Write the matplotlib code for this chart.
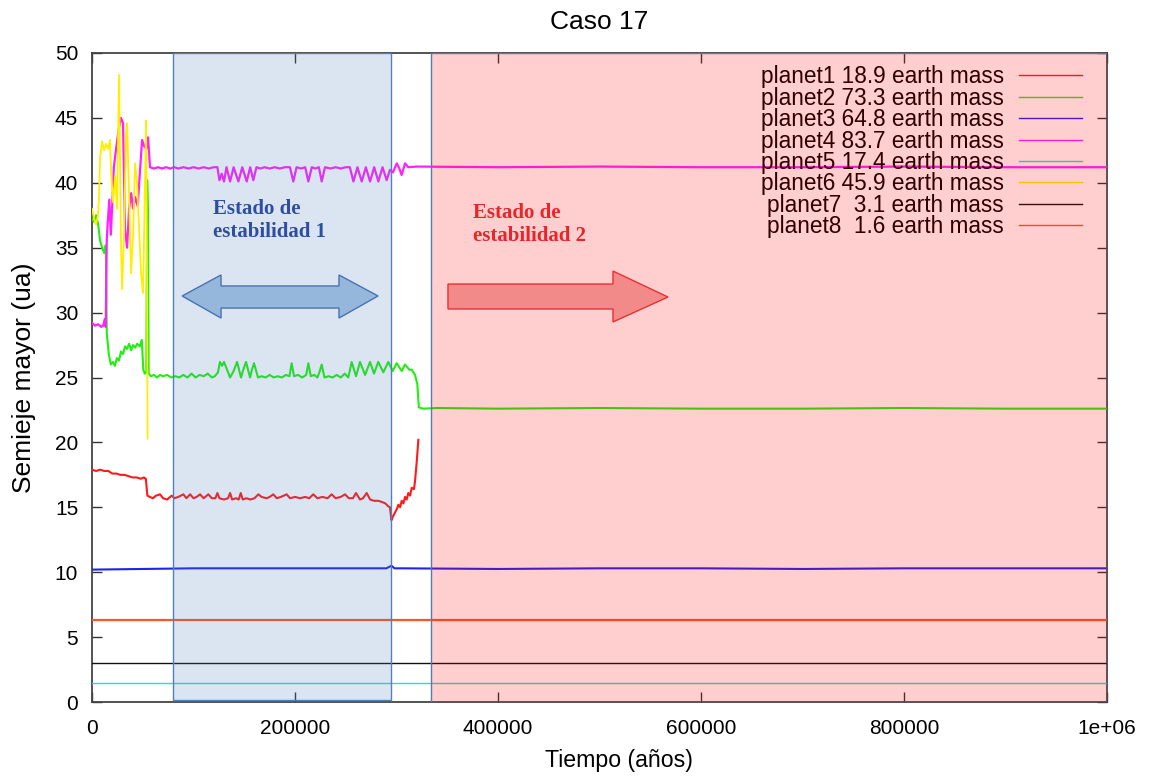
import matplotlib
matplotlib.use('Agg')
import matplotlib.pyplot as plt
from matplotlib.patches import Polygon

plt.rcParams['font.family'] = ['Liberation Sans', 'DejaVu Sans']

# planet1 (red)
t1 = [0, 4000, 8000, 12000, 16000, 20000, 24000, 28000, 32000, 36000,
      40000, 44000, 48000, 51000, 53000, 54500, 57000, 60000, 63000, 67000,
      70000, 74000, 78500, 81000, 85000, 90000, 93000, 96600, 100000, 103000,
      106400, 110000, 114600, 118000, 121500, 123500, 125500, 130000, 134000, 136000,
      138000, 142000, 144500, 146500, 148500, 152000, 156000, 160000, 163900, 167000,
      172000, 175000, 178600, 182000, 186000, 191800, 195000, 200000, 205000, 210000,
      214000, 218000, 222000, 227000, 232000, 236100, 240000, 245000, 249300, 253000,
      257000, 260100, 264000, 267000, 270600, 274000, 278000, 282000, 286000, 289000,
      291500, 293500, 295000, 296500, 298500, 300500, 301800, 303500, 305100, 306800,
      308400, 310000, 311600, 313300, 315000, 317200, 318200, 319900, 321500]
a1 = [17.9, 17.8, 17.9, 17.8, 17.8, 17.6, 17.6, 17.5, 17.5, 17.4,
      17.3, 17.3, 17.2, 17.3, 17.2, 15.9, 15.8, 15.7, 15.9, 16.0,
      15.7, 15.6, 15.9, 15.7, 15.8, 16.0, 15.7, 16.0, 15.7, 15.8,
      16.0, 15.7, 16.0, 15.7, 15.7, 16.1, 15.7, 15.6, 15.7, 16.1,
      15.6, 15.7, 15.6, 16.1, 15.6, 15.7, 15.6, 15.7, 16.0, 15.8,
      15.7, 15.8, 16.0, 15.7, 15.8, 16.0, 15.7, 15.8, 15.7, 15.8,
      15.7, 16.0, 15.7, 15.8, 15.7, 16.0, 15.7, 15.8, 16.0, 15.7,
      15.7, 16.1, 15.6, 15.7, 16.1, 15.6, 15.5, 15.5, 15.4, 15.3,
      15.1, 15.0, 14.0, 14.3, 14.6, 14.9, 15.2, 15.0, 15.5, 15.3,
      15.8, 15.6, 16.1, 15.9, 16.5, 16.4, 17.0, 18.5, 20.2]

# planet2 (green)
t2 = [0, 2000, 4000, 6000, 8000, 10000, 12000, 13500, 14500, 16500,
      18500, 20500, 22500, 24500, 26500, 28500, 30500, 32500, 34500, 36500,
      38500, 40500, 42500, 44500, 47000, 49000, 50500, 52000, 53500, 54300,
      55000, 55800, 58000, 61000, 64000, 67000, 70000, 74000, 78000, 82000,
      86000, 90000, 94000, 98000, 102000, 106000, 110000, 114000, 118000, 121000,
      124100, 126000, 128100, 130000, 132000, 136000, 139500, 142900, 146800, 149000,
      151700, 155700, 157500, 159600, 163500, 167000, 171000, 175000, 179000, 183000,
      187000, 191000, 194500, 196700, 199000, 203000, 207000, 211000, 213100, 215500,
      219000, 222000, 224000, 226300, 229000, 233000, 237000, 241000, 245000, 249000,
      252500, 255800, 260100, 264000, 269000, 273900, 277800, 282000, 287000, 291900,
      296200, 300200, 305100, 308400, 312600, 315000, 318200, 320500, 322000, 326000,
      340000, 400000, 500000, 600000, 700000, 800000, 900000, 1000000]
a2 = [37.2, 37.0, 37.5, 36.8, 35.5, 35.0, 34.6, 35.2, 28.4, 26.8,
      26.0, 26.2, 25.9, 26.5, 26.3, 27.0, 26.8, 27.4, 27.2, 27.6,
      27.1, 27.5, 27.3, 27.6, 27.4, 27.9, 25.6, 25.3, 25.4, 40.2,
      38.0, 25.3, 25.1, 25.2, 25.0, 25.2, 25.1, 25.2, 25.0, 25.1,
      25.0, 25.2, 25.0, 25.3, 25.0, 25.2, 25.1, 25.3, 25.0, 25.1,
      25.4, 26.2, 25.9, 26.2, 25.8, 25.0, 25.5, 26.2, 25.0, 25.6,
      26.2, 25.0, 25.6, 26.1, 25.0, 25.1, 25.0, 25.2, 25.0, 25.1,
      25.0, 25.2, 25.1, 26.1, 25.1, 25.2, 25.0, 25.2, 26.1, 25.1,
      25.2, 25.0, 25.4, 26.0, 25.0, 25.1, 25.0, 25.2, 25.0, 25.3,
      25.0, 26.2, 25.1, 26.2, 25.2, 26.2, 25.3, 26.2, 25.4, 26.2,
      25.5, 26.1, 25.5, 26.0, 25.6, 25.6, 25.2, 24.5, 22.7, 22.6,
      22.65, 22.6, 22.65, 22.6, 22.6, 22.65, 22.6, 22.6]

# planet3 (blue)
t3 = [0, 50000, 100000, 150000, 200000, 250000, 290000, 295000, 298000,
      305000, 400000, 500000, 600000, 700000, 800000, 900000, 1000000]
a3 = [10.2, 10.25, 10.3, 10.3, 10.3, 10.3, 10.3, 10.5, 10.3,
      10.3, 10.25, 10.3, 10.3, 10.25, 10.3, 10.3, 10.3]

# planet4 (magenta)
t4 = [0, 3000, 6000, 9000, 11000, 12500, 13500, 14500, 15500, 17000,
      18500, 20000, 21500, 23500, 26000, 28500, 30500, 32500, 34500, 36500,
      38500, 40500, 42500, 45000, 47300, 49300, 51500, 53500, 55200, 57100,
      61000, 65000, 69000, 73000, 77000, 81000, 85000, 90000, 95000, 100000,
      105000, 110000, 115000, 120000, 123500, 125500, 127800, 130000, 132500, 136000,
      139500, 144200, 148000, 152400, 155800, 158900, 162000, 166000, 170000, 175000,
      180000, 185000, 190000, 195000, 198300, 201500, 206000, 210000, 213100, 216500,
      220000, 223500, 226300, 229500, 235000, 240000, 245000, 250000, 254000, 257500,
      261500, 265700, 269800, 273900, 278000, 282100, 286200, 290300, 293500, 296500,
      300200, 302800, 305000, 308400, 311600, 320000, 400000, 500000, 600000, 700000,
      800000, 900000, 1000000]
a4 = [29.2, 29.0, 29.1, 28.9, 29.0, 29.5, 28.9, 35.6, 37.0, 38.7,
      36.0, 38.5, 41.2, 42.5, 44.0, 45.0, 44.6, 36.4, 35.0, 38.0,
      39.2, 38.0, 38.9, 38.2, 41.0, 43.3, 42.8, 42.6, 43.5, 41.2,
      41.1, 41.2, 41.1, 41.2, 41.1, 41.2, 41.1, 41.2, 41.1, 41.2,
      41.1, 41.2, 41.1, 41.2, 41.2, 40.2, 40.7, 40.1, 41.2, 40.1,
      41.2, 40.1, 41.2, 40.1, 41.2, 40.2, 41.2, 41.1, 41.2, 41.1,
      41.2, 41.1, 41.2, 41.2, 40.1, 41.2, 41.1, 41.2, 40.1, 41.2,
      41.1, 41.2, 40.1, 41.2, 41.1, 41.2, 41.1, 41.2, 41.2, 40.1,
      41.2, 40.1, 41.2, 40.1, 41.2, 40.1, 41.2, 40.2, 41.0, 40.8,
      41.5, 41.1, 40.6, 41.5, 41.2, 41.25, 41.2, 41.25, 41.2, 41.2,
      41.25, 41.2, 41.2]

# planet6 (yellow)
t6 = [0, 2000, 3900, 5900, 6900, 7900, 9900, 11800, 13800, 15800,
      17700, 18700, 20700, 22700, 24600, 26600, 28600, 29600, 31500, 33500,
      34500, 36500, 38400, 40400, 42400, 44300, 46300, 48300, 50200, 52200,
      53200, 54200, 54700]
a6 = [38.0, 37.2, 36.8, 37.5, 39.0, 42.0, 43.2, 42.5, 43.0, 42.6,
      43.3, 41.0, 38.5, 40.5, 38.0, 48.3, 35.0, 31.8, 36.0, 43.8,
      44.6, 39.0, 33.0, 36.0, 41.5, 40.0, 36.5, 33.0, 31.5, 40.0,
      44.8, 32.0, 20.3]

# planets 5, 7, 8 stay flat over the whole run
t_flat = [0, 1000000]
a5 = [1.5, 1.5]
a7 = [3.0, 3.0]
a8 = [6.3, 6.3]

labels = ['planet1 18.9 earth mass', 'planet2 73.3 earth mass',
          'planet3 64.8 earth mass', 'planet4 83.7 earth mass',
          'planet5 17.4 earth mass', 'planet6 45.9 earth mass',
          'planet7  3.1 earth mass', 'planet8  1.6 earth mass']
colors = ['#ff1a1a', '#22ee11', '#2222ee', '#ff22ff',
          '#22dddd', '#ffee00', '#111111', '#ff5522']
widths = [1.5, 1.5, 1.5, 1.6, 1.0, 1.3, 1.0, 1.6]

# stability windows (years)
estado1 = (79800, 294600)
estado2 = (334000, 1000000)

fig = plt.figure(figsize=(11.55, 7.77), dpi=100)
ax = fig.add_axes([0.0797, 0.0965, 0.8787, 0.8353])

series = [(t1, a1), (t2, a2), (t3, a3), (t4, a4),
          (t_flat, a5), (t6, a6), (t_flat, a7), (t_flat, a8)]
for (t, a), lab, c, w in zip(series, labels, colors, widths):
    ax.plot(t, a, color=c, lw=w, label=lab, zorder=3)

ax.set_xlim(0, 1000000)
ax.set_ylim(0, 50)
ax.set_xticks([0, 200000, 400000, 600000, 800000, 1000000])
ax.set_xticklabels(['0', '200000', '400000', '600000', '800000', '1e+06'])
ax.set_yticks(range(0, 51, 5))
ax.tick_params(direction='in', top=True, right=True, length=7, width=1,
               labelsize=15, color='#333333')
ax.tick_params(axis='x', pad=12)
ax.tick_params(axis='y', pad=10)
for s in ax.spines.values():
    s.set_color('#444444')
    s.set_linewidth(1.3)

ax.set_title('Caso 17', fontsize=19, pad=17)
ax.set_xlabel('Tiempo (años)', fontsize=16.7, labelpad=14)
ax.xaxis.set_label_coords(0.519, -0.072)
ax.set_ylabel('Semieje mayor (ua)', fontsize=19)
ax.yaxis.set_label_coords(-0.055, 0.5)

leg = ax.legend(loc='upper right', bbox_to_anchor=(0.9754, 0.981), frameon=False,
                markerfirst=False, fontsize=16.3, handlelength=2.8,
                handletextpad=0.65, labelspacing=-0.07, borderpad=0,
                borderaxespad=0)
leg.set_zorder(4)
for h in leg.get_lines():
    h.set_linewidth(1.0)

# shaded stability windows drawn over the curves
ax.axvspan(*estado1, ymin=0.003, ymax=1, facecolor=(0.31, 0.506, 0.741, 0.2),
           edgecolor='#4f81bd', lw=1, zorder=6)
ax.axvspan(*estado2, ymin=0, ymax=1, facecolor=(1.0, 0.0, 0.0, 0.19),
           edgecolor='#5a78b0', lw=1, zorder=6)

# arrows
blue_arrow = [(88700, 31.28), (127100, 32.9), (127100, 32.05), (243300, 32.05),
              (243300, 32.9), (281800, 31.28), (243300, 29.58), (243300, 30.35),
              (127100, 30.35), (127100, 29.58)]
ax.add_patch(Polygon(blue_arrow, closed=True, facecolor='#95b7db',
                     edgecolor='#4a72b0', lw=1, zorder=7))
red_arrow = [(350700, 32.2), (513300, 32.2), (513300, 33.2), (567500, 31.2),
             (513300, 29.28), (513300, 30.28), (350700, 30.28)]
ax.add_patch(Polygon(red_arrow, closed=True, facecolor='#f28a8a',
                     edgecolor='#e83030', lw=1, zorder=7))

serif = ['Liberation Serif', 'DejaVu Serif']
ax.text(119200, 37.6, 'Estado de', family=serif, weight='bold', fontsize=15,
        color='#2f4f9e', zorder=8)
ax.text(119200, 35.8, 'estabilidad 1', family=serif, weight='bold', fontsize=15,
        color='#2f4f9e', zorder=8)
ax.text(375400, 37.3, 'Estado de', family=serif, weight='bold', fontsize=15,
        color='#e8252a', zorder=8)
ax.text(375400, 35.5, 'estabilidad 2', family=serif, weight='bold', fontsize=15,
        color='#e8252a', zorder=8)

fig.savefig('out.png', dpi=100)
